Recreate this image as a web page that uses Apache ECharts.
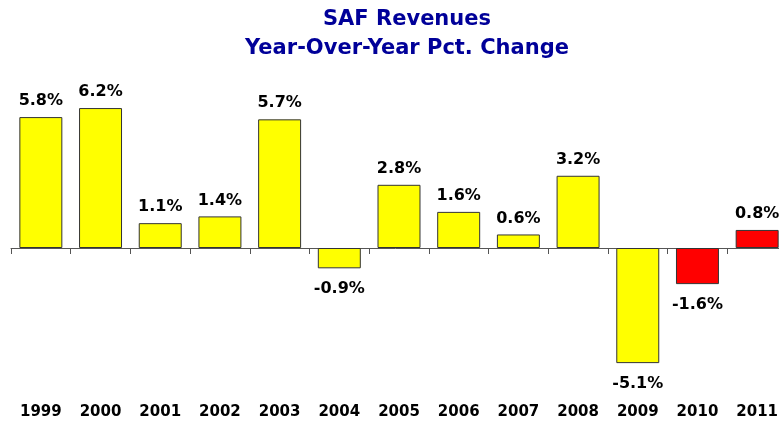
<!DOCTYPE html>
<html>
<head>
<meta charset="utf-8">
<script src="https://cdn.jsdelivr.net/npm/echarts@6/dist/echarts.min.js"></script>
<style>
  html, body { margin: 0; padding: 0; background: #fff; }
  #chart { width: 779px; height: 424px; }
</style>
</head>
<body>
<div id="chart"></div>
<script>
// 年份与同比变化(%)
const years = ["1999", "2000", "2001", "2002", "2003", "2004", "2005", "2006", "2007", "2008", "2009", "2010", "2011"];
const pctChange = [5.8, 6.2, 1.1, 1.4, 5.7, -0.9, 2.8, 1.6, 0.6, 3.2, -5.1, -1.6, 0.8];
const barColors = ["#FFFF00", "#FFFF00", "#FFFF00", "#FFFF00", "#FFFF00", "#FFFF00", "#FFFF00", "#FFFF00", "#FFFF00", "#FFFF00", "#FFFF00", "#FF0000", "#FF0000"];

const font = "DejaVu Sans";
const myChart = echarts.init(document.getElementById("chart"));

const barData = pctChange.map((v, i) => ({
  value: v,
  itemStyle: { color: barColors[i] },
  label: { position: v < 0 ? "bottom" : "top", distance: v < 0 ? 13 : 8 },
}));

const option = {
  animation: false,
  title: {
    text: "SAF Revenues\nYear-Over-Year Pct. Change",
    left: 402,
    textAlign: "center",
    top: 0,
    textStyle: {
      fontFamily: font,
      fontSize: 21,
      fontWeight: "bold",
      color: "#000099",
      lineHeight: 29,
    },
  },
  grid: {
    left: 11,
    width: 776,
    top: 90,
    bottom: 18,
    outerBoundsMode: "none",
  },
  xAxis: [
    {
      type: "category",
      data: years,
      axisLine: { onZero: true, lineStyle: { color: "#555", width: 1 } },
      axisTick: { show: true, length: 6, lineStyle: { color: "#555" } },
      axisLabel: { show: false },
    },
    {
      type: "category",
      data: years,
      position: "bottom",
      axisLine: { show: false, onZero: false },
      axisTick: { show: false },
      axisLabel: {
        margin: -1,
        fontFamily: font,
        fontSize: 15,
        fontWeight: "bold",
        color: "#000",
      },
    },
  ],
  yAxis: {
    type: "value",
    min: -7,
    max: 7,
    show: false,
  },
  series: [
    {
      type: "bar",
      xAxisIndex: 0,
      data: barData,
      barCategoryGap: "28%",
      itemStyle: { borderColor: "#333", borderWidth: 1 },
      label: {
        show: true,
        formatter: (p) => p.value.toFixed(1) + "%",
        fontFamily: font,
        fontSize: 16,
        fontWeight: "bold",
        color: "#000",
      },
    },
  ],
};
myChart.setOption(option);
</script>
</body>
</html>
